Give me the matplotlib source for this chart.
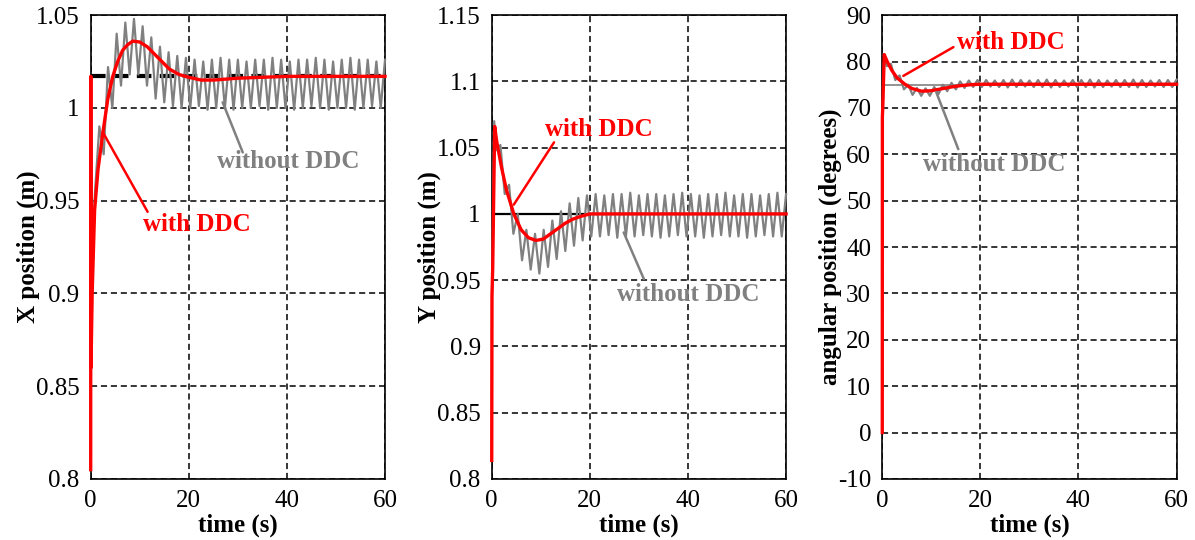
import matplotlib.pyplot as plt
import numpy as np

plt.rcParams['font.family'] = ['Liberation Serif', 'DejaVu Serif']
plt.rcParams['font.size'] = 18

# time stamps of the oscillation extrema of the "without DDC" runs
t_osc = np.linspace(0, 60, 69)[1:]

# ---------------- X position ----------------
x_ref = 1.017
x_red_t = [0, 0.02, 0.06, 0.3, 0.8, 1.5, 2.5, 3.5, 4.5, 5.5, 6.5, 7.5, 8.6, 10,
           11.5, 13, 14.5, 16, 18, 20, 22.5, 25, 30, 40, 60]
x_red = [0.805, 1.017, 0.86, 0.90, 0.945, 0.967, 0.987, 1.005, 1.017, 1.025,
         1.031, 1.034, 1.036, 1.0355, 1.033, 1.029, 1.025, 1.021, 1.018, 1.0165,
         1.015, 1.015, 1.016, 1.017, 1.017]
x_gray_t0 = [0, 0.05, 0.3]
x_gray0 = [0.805, 0.96, 0.922]
x_gray = [0.955, 0.990, 0.975, 1.022, 1.000, 1.040, 1.012, 1.046,
          1.018, 1.048, 1.018, 1.044, 1.012, 1.038, 1.005, 1.033,
          1.003, 1.030, 1.001, 1.028, 1.000, 1.027,
          1.000, 1.026, 1.001, 1.025, 0.999, 1.026, 1.000, 1.027,
          1.000, 1.026, 0.999, 1.026, 1.000, 1.025, 1.000, 1.026,
          1.001, 1.026, 0.999, 1.027, 1.000, 1.026, 1.000, 1.025,
          0.999, 1.026, 1.000, 1.026, 1.001, 1.027, 1.000, 1.026,
          0.999, 1.025, 1.000, 1.026, 1.000, 1.027, 0.999, 1.026,
          1.000, 1.026, 1.001, 1.025, 1.000, 1.026]

# ---------------- Y position ----------------
y_ref = 1.0
y_red_t = [0, 0.05, 0.2, 0.6, 1, 2, 3, 4.5, 6, 7.5, 9, 10.5, 12, 13.5, 15, 16.5,
           18, 20, 25, 30, 60]
y_red = [0.814, 0.938, 0.96, 1.066, 1.055, 1.035, 1.018, 1.0, 0.988, 0.982,
         0.980, 0.981, 0.985, 0.989, 0.993, 0.996, 0.998, 1.0, 1.0, 1.0, 1.0]
y_gray_t0 = [0, 0.05, 0.5]
y_gray0 = [0.814, 0.94, 1.07]
y_gray = [1.048, 1.052, 1.015, 1.022, 0.985, 1.000, 0.965, 0.988,
          0.958, 0.985, 0.955, 0.988, 0.960, 0.995, 0.966, 1.002,
          0.972, 1.008, 0.976, 1.012, 0.980, 1.014, 0.983,
          1.015, 0.983, 1.014, 0.984, 1.015, 0.982, 1.015, 0.983,
          1.016, 0.983, 1.014, 0.984, 1.015, 0.983, 1.015, 0.982,
          1.014, 0.983, 1.015, 0.984, 1.016, 0.983, 1.015, 0.983,
          1.014, 0.982, 1.015, 0.983, 1.015, 0.984, 1.016, 0.983,
          1.014, 0.983, 1.015, 0.982, 1.015, 0.983, 1.014, 0.984,
          1.015, 0.983, 1.016, 0.983, 1.015]

# ---------------- angular position ----------------
a_ref = 75
a_red_t = [0, 0.02, 0.1, 0.4, 1, 2, 3, 4.5, 6, 8, 10, 12, 14, 16, 18, 20, 30, 60]
a_red = [0, 68, 70, 81.5, 80, 78, 76.5, 75.2, 74.2, 73.6, 73.7, 74.1, 74.5,
         74.8, 75.0, 75.1, 75.1, 75.1]
a_gray_t0 = [0, 0.05, 0.4]
a_gray0 = [0, 68, 81.5]
a_gray = [79.0, 79.5, 76.0, 77.0, 74.0, 75.0, 72.8, 74.3,
          72.6, 74.2, 72.6, 74.5, 73.0, 75.0, 73.6, 75.4,
          74.0, 75.7, 74.3, 75.9, 74.5, 76.0,
          74.5, 76.0, 74.6, 75.9, 74.5, 76.0, 74.4, 76.1,
          74.5, 76.0, 74.6, 75.9, 74.5, 76.0, 74.5, 76.1,
          74.4, 76.0, 74.5, 75.9, 74.6, 76.0, 74.5, 76.0,
          74.5, 76.1, 74.4, 76.0, 74.5, 75.9, 74.6, 76.0,
          74.5, 76.0, 74.5, 76.1, 74.4, 76.0, 74.5, 75.9,
          74.6, 76.0, 74.5, 76.0, 74.5, 76.1]

gray = '#808080'
red = '#ff0000'

fig = plt.figure(figsize=(11.95, 5.4), dpi=100)
lefts = [0.0759, 0.4115, 0.7383]
axes = [fig.add_axes([l, 0.113, 0.2463, 0.859]) for l in lefts]

panels = [
    (x_red_t, x_red, x_gray_t0, x_gray0, x_gray, (0.8, 1.05), np.arange(0.8, 1.051, 0.05), 'X position (m)'),
    (y_red_t, y_red, y_gray_t0, y_gray0, y_gray, (0.8, 1.15), np.arange(0.8, 1.151, 0.05), 'Y position (m)'),
    (a_red_t, a_red, a_gray_t0, a_gray0, a_gray, (-10, 90), np.arange(-10, 91, 10), 'angular position (degrees)'),
]

for ax, (rt, rv, gt0, gv0, gv, ylim, yt, ylab) in zip(axes, panels):
    ax.plot(list(gt0) + list(t_osc), list(gv0) + list(gv), color=gray, lw=1.6,
            zorder=3, clip_on=False)
    ax.set_xlim(0, 60)
    ax.set_ylim(*ylim)
    ax.set_xticks([0, 20, 40, 60])
    ax.set_yticks(yt)
    ax.set_yticklabels([f'{v:g}' for v in np.round(yt, 2)])
    ax.tick_params(length=0, pad=8)
    ax.grid(True, color='black', ls=(0, (4, 2.5)), lw=1.1)
    ax.set_axisbelow(True)
    for s in ax.spines.values():
        s.set_linewidth(1.2)
    ax.set_xlabel('time (s)', fontweight='bold', labelpad=1)
    ax.set_ylabel(ylab, fontweight='bold', labelpad=-3)
    ax.plot(rt, rv, color=red, lw=2.4, zorder=5, clip_on=False)

# reference lines
axes[0].axhline(x_ref, color='black', lw=3, ls=(0, (3.5, 2)), zorder=2.5)
axes[1].axhline(y_ref, color='black', lw=1.6, zorder=2.5)
axes[2].axhline(a_ref, color=gray, lw=1.2, zorder=2.5)

# annotations: (ax, text, colour, text pos, line start, line end)
notes = [
    (axes[0], 'with DDC', red, (21.6, 0.937), (11.6, 0.944), (2.45, 0.987)),
    (axes[0], 'without DDC', gray, (40.2, 0.971), (31.0, 0.976), (26.9, 1.003)),
    (axes[1], 'with DDC', red, (21.8, 1.064), (12.7, 1.054), (4.5, 1.007)),
    (axes[1], 'without DDC', gray, (40.0, 0.939), (31.0, 0.951), (26.9, 0.986)),
    (axes[2], 'with DDC', red, (26.3, 84.0), (14.5, 83.1), (4.3, 76.9)),
    (axes[2], 'without DDC', gray, (22.9, 57.7), (15.5, 61.1), (11.0, 73.4)),
]
for ax, txt, c, tp, p0, p1 in notes:
    ax.annotate('', xy=p1, xytext=p0,
                arrowprops=dict(arrowstyle='-', color=c, lw=1.8, shrinkA=0, shrinkB=0),
                zorder=6)
    ax.text(tp[0], tp[1], txt, color=c, fontweight='bold', ha='center', va='center', zorder=7)

fig.savefig('out.png', dpi=100)
